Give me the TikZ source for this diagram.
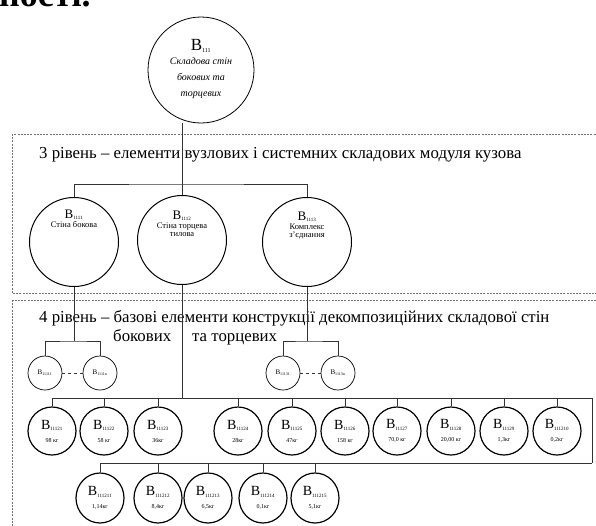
\documentclass[tikz,border=0pt]{standalone}
\usepackage{fontspec}
\setmainfont{Liberation Serif}
\usetikzlibrary{shapes.geometric}
\newcommand{\myfs}[1]{\fontsize{#1}{#1}\selectfont}
\begin{document}
\begin{tikzpicture}[x=1pt,y=-1pt,
  lvlbox/.style={draw=black!55, dash pattern=on 2pt off 1.2pt, line width=0.7pt},
  conn/.style={draw=black!80, line width=0.7pt},
  topell/.style={ellipse, draw, line width=0.8pt, minimum width=106pt, minimum height=106pt, inner sep=0pt},
  lvlc/.style={circle, draw, line width=1pt, minimum size=89pt, inner sep=0pt},
  smc/.style={circle, draw, line width=0.7pt, minimum size=34pt, inner sep=0pt, font=\myfs{7}},
  wc/.style={circle, draw, line width=1.2pt, minimum size=48pt, inner sep=0pt, align=center},
  we/.style={ellipse, draw, line width=1.2pt, minimum width=48pt, minimum height=50pt, inner sep=0pt, align=center},
  txt/.style={inner sep=0pt, align=center},
  leveltext/.style={anchor=base west, font=\myfs{16.8}, inner sep=0pt}
]
\useasboundingbox (0,0) rectangle (596,525);
% cut-off line of text above the figure
\node[anchor=base west, inner sep=0pt, font=\bfseries\myfs{36}] (frag) at (-1,6) {ності.};
% level boxes
\draw[lvlbox] (12,134) rectangle (620,293);
\draw[lvlbox] (12,300) rectangle (620,560);
\node[leveltext] (l3) at (39,158) {3 рівень -- елементи вузлових і системних складових модуля кузова};
\node[leveltext] (l4a) at (39,322) {4 рівень -- базові елементи конструкції декомпозиційних складової стін};
\node[leveltext] (l4b) at (113,341) {боковиx \quad та торцевих};
% top ellipse
\node[topell] (top) at (201,70) {};
\node[txt] (topt) at (201,69) {{\myfs{17}В}\textsubscript{\myfs{6}111}\\[2pt]
  {\itshape\myfs{10}Складова стін}\\[4pt]{\itshape\myfs{10}боковиx та}\\[4pt]{\itshape\myfs{10}торцевих}};
% level 3 circles
\node[lvlc] (b1111) at (74,242) {};
\node[lvlc] (b1112) at (182,240) {};
\node[lvlc] (b1113) at (307,242) {};
\node[txt, font=\myfs{8.5}] (b1111t) at (74,219) {{\myfs{13}В}\textsubscript{\myfs{5}1111}\\Стіна бокова};
\node[txt, font=\myfs{8.5}] (b1112t) at (182,224) {{\myfs{13}В}\textsubscript{\myfs{5}1112}\\Стіна торцева\\тилова};
\node[txt, font=\myfs{8.5}] (b1113t) at (307,226) {{\myfs{13}В}\textsubscript{\myfs{5}1113}\\Комплекс\\з'єднання};
\coordinate (bus3) at (182,184);
\draw[conn] (b1112.north) -- (b1112.north |- top.south);
\draw[conn] (b1111.north) |- (bus3) -| (b1113.north);
% small circles
\node[smc] (s1) at (45,373) {В\textsubscript{\myfs{4}11111}};
\node[smc] (s2) at (100,373) {В\textsubscript{\myfs{4}1111n}};
\node[smc] (s3) at (283,373) {В\textsubscript{\myfs{4}11131}};
\node[smc] (s4) at (338,373) {В\textsubscript{\myfs{4}1113n}};
\coordinate (busL) at (74,341);
\coordinate (busR) at (307,341);
\draw[conn] (b1111.south) -- (busL);
\draw[conn] (s1.north) |- (busL) -| (s2.north);
\draw[conn] (b1113.south) -- (busR);
\draw[conn] (s3.north) |- (busR) -| (s4.north);
\draw[conn, dashed] (s1.east) -- (s2.west);
\draw[conn, dashed] (s3.east) -- (s4.west);
% row 1
\foreach \x/\n/\s/\w in {52/r1/11121/{98 кг}, 104/r2/11122/{58 кг}, 158/r3/11123/{36кг}, 238/r4/11124/{28кг}, 292/r5/11125/{47кг}, 345/r6/11126/{158 кг}, 397/r7/11127/{70,0 кг}, 451/r8/11128/{20,00 кг}, 504/r9/11129/{1,3кг}, 557/r10/111210/{0,2кг}}{
  \node[wc] (\n) at (\x,431) {{\myfs{14}В}\textsubscript{\myfs{5}\s}\\[1pt]{\myfs{6}\w}};
}
\coordinate (bus4) at (182,398);
\coordinate (c1) at (592,398);
\coordinate (c2) at (592,463);
\draw[conn] (b1112.south) -- (bus4);
\foreach \n in {r1,r2,r3,r4,r5,r6,r7,r8,r9,r10}{
  \draw[conn] (\n.north) |- (bus4);
}
\draw[conn] (r10.north) |- (c1) -- (c2);
% row 2
\foreach \x/\n/\s/\w in {100/q1/111211/{1,14кг}, 158/q2/111212/{8,4кг}, 208/q3/111213/{6,5кг}, 263/q4/111214/{0,1кг}, 315/q5/111215/{5,1кг}}{
  \node[we] (\n) at (\x,498) {{\myfs{14}В}\textsubscript{\myfs{5}\s}\\[1pt]{\myfs{6}\w}};
}
\foreach \n in {q1,q2,q3,q4,q5}{
  \draw[conn] (\n.north) |- (c2);
}
\end{tikzpicture}
\end{document}
